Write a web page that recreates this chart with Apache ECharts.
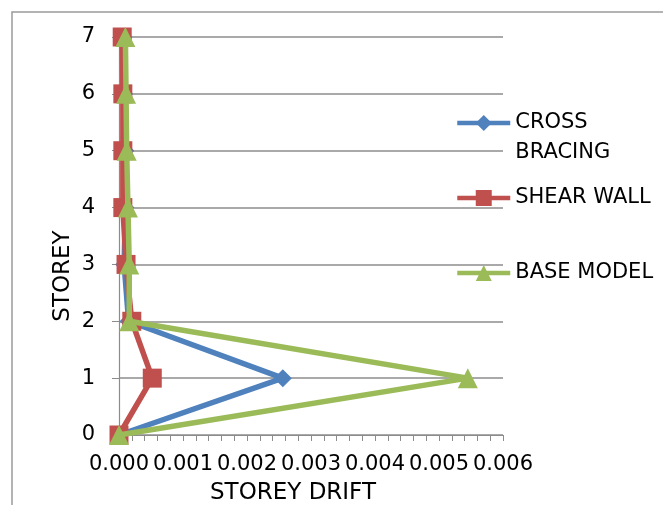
<!DOCTYPE html>
<html>
<head>
<meta charset="utf-8">
<script src="https://cdn.jsdelivr.net/npm/echarts@6/dist/echarts.min.js"></script>
<style>
  html, body { margin: 0; padding: 0; background: #fff; }
  #chart { width: 663px; height: 505px; }
</style>
</head>
<body>
<div id="chart"></div>
<script>
// Storey levels (y) and inter-storey drift (x) for each structural system
const storeys = [0, 1, 2, 3, 4, 5, 6, 7];
const crossBracing = [0, 0.00256, 0.00015, 0.00008, 0.00010, 0.00010, 0.00008, 0.00007];
const shearWall    = [0, 0.00052, 0.00020, 0.00011, 0.00006, 0.00006, 0.00006, 0.00005];
const baseModel    = [0, 0.00545, 0.00016, 0.00016, 0.00014, 0.00012, 0.00011, 0.00010];

const seriesNames = ['CROSS BRACING', 'SHEAR WALL', 'BASE MODEL'];
const seriesColors = ['#4F81BD', '#C0504D', '#9BBB59'];

const FONT = 'DejaVu Sans';
const FS = 21;        // tick labels and legend
const FS_TITLE = 23;  // axis titles

function pairs(values) {
  return values.map((v, i) => [v, storeys[i]]);
}

const chart = echarts.init(document.getElementById('chart'), null, { renderer: 'canvas' });

const legendBase = {
  orient: 'vertical',
  left: 455,
  padding: 0,
  itemWidth: 53,
  itemHeight: 20,
  itemGap: 5,
  selectedMode: false,
  lineStyle: { width: 4.5 },
  textStyle: { fontFamily: FONT, fontSize: FS, color: '#000', lineHeight: 30 }
};

chart.setOption({
  animation: false,
  color: seriesColors,
  grid: { left: 119, right: 160, top: 37, bottom: 70, containLabel: false },
  legend: [
    // blank first line keeps "CROSS" level with the icon, "BRACING" wraps below
    Object.assign({}, legendBase, {
      top: 78,
      data: [seriesNames[0]],
      formatter: () => ' \nCROSS\nBRACING'
    }),
    Object.assign({}, legendBase, { top: 183, data: [seriesNames[1]] }),
    Object.assign({}, legendBase, { top: 258, data: [seriesNames[2]] })
  ],
  xAxis: {
    type: 'value',
    min: 0,
    max: 0.006,
    interval: 0.001,
    axisLine: { show: true, lineStyle: { color: '#8c8c8c', width: 1.2 } },
    axisTick: { show: true, inside: false, length: 6, lineStyle: { color: '#8c8c8c' } },
    minorTick: { show: true, splitNumber: 5, length: 6, lineStyle: { color: '#8c8c8c' } },
    splitLine: { show: false },
    axisLabel: {
      margin: 19,
      fontFamily: FONT,
      fontSize: FS,
      color: '#000',
      formatter: v => v.toFixed(3)
    }
  },
  yAxis: {
    type: 'value',
    min: 0,
    max: 7,
    interval: 1,
    axisLine: { show: true, lineStyle: { color: '#8c8c8c', width: 1.2 } },
    axisTick: { show: true, inside: false, length: 7, lineStyle: { color: '#8c8c8c' } },
    splitLine: { show: true, lineStyle: { color: '#8c8c8c', width: 1.5 } },
    axisLabel: { margin: 24, fontFamily: FONT, fontSize: FS, color: '#000' }
  },
  graphic: [
    {
      type: 'rect',
      silent: true,
      shape: { x: 12, y: 12, width: 700, height: 600 },
      style: { fill: 'none', stroke: '#9a9a9a', lineWidth: 1.5 }
    },
    {
      type: 'text',
      x: 63,
      y: 276,
      rotation: Math.PI / 2,
      style: {
        text: 'STOREY',
        fontFamily: FONT,
        fontSize: FS_TITLE,
        fill: '#000',
        align: 'center',
        verticalAlign: 'middle'
      }
    },
    {
      type: 'text',
      x: 293,
      y: 493,
      style: {
        text: 'STOREY DRIFT',
        fontFamily: FONT,
        fontSize: FS_TITLE,
        fill: '#000',
        align: 'center',
        verticalAlign: 'middle'
      }
    }
  ],
  series: [
    {
      name: seriesNames[0],
      type: 'line',
      data: pairs(crossBracing),
      symbol: 'diamond',
      symbolSize: 18,
      lineStyle: { width: 5.5, color: seriesColors[0] },
      itemStyle: { color: seriesColors[0] },
      z: 2
    },
    {
      name: seriesNames[1],
      type: 'line',
      data: pairs(shearWall),
      symbol: 'rect',
      symbolSize: 19,
      lineStyle: { width: 5.5, color: seriesColors[1] },
      itemStyle: { color: seriesColors[1] },
      z: 3
    },
    {
      name: seriesNames[2],
      type: 'line',
      data: pairs(baseModel),
      symbol: 'triangle',
      symbolSize: 20,
      lineStyle: { width: 5.5, color: seriesColors[2] },
      itemStyle: { color: seriesColors[2] },
      z: 4
    }
  ]
});
</script>
</body>
</html>
